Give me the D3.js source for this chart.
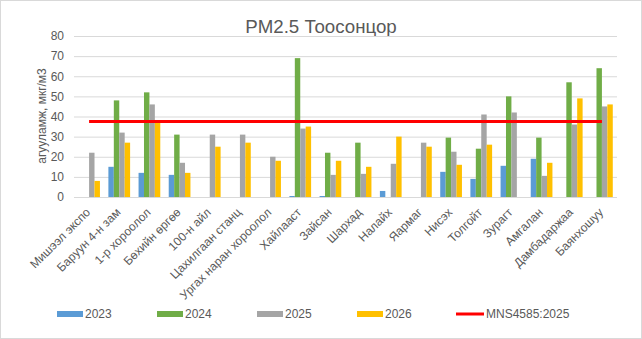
<!DOCTYPE html>
<html><head><meta charset="utf-8">
<script src="https://cdn.jsdelivr.net/npm/d3@7"></script>
<style>body{margin:0;background:#fff}svg{display:block;font-family:"Liberation Sans",Arial,sans-serif}</style>
</head><body><svg id="c" width="642" height="339"></svg>
<script>
const categories = ["Мишээл экспо","Баруун 4-н зам","1-р хороолол","Бөхийн өргөө","100-н айл","Цахилгаан станц","Ургах наран хороолол","Хайлааст","Зайсан","Шархад","Налайх","Яармаг","Нисэх","Толгойт","Зурагт","Амгалан","Дамбадаржаа","Баянхошуу"];
const seriesNames = ["2023","2024","2025","2026"];
const v2023 = [null,15,12,11,null,null,null,0.5,0.5,null,3,null,12.5,9,15.5,19,null,null];
const v2024 = [null,48,52,31,null,null,null,69,22,27,null,null,29.5,24,50,29.5,57,64];
const v2025 = [22,32,46,17,31,31,20,34,11,11.5,16.5,27,22.5,41,42,10.5,36,45];
const v2026 = [8,27,37,12,25,27,18,35,18,15,30,25,16,26,null,17,49,46];
const standardName = "MNS4585:2025";
const standardValue = 37.5;
const yTicks = [0,10,20,30,40,50,60,70,80];
const colors = ["#5B9BD5","#70AD47","#A5A5A5","#FFC000"];
const values = [v2023,v2024,v2025,v2026];

const svg = d3.select("#c");
svg.append("rect").attr("x",0.5).attr("y",0.5).attr("width",641).attr("height",338).attr("fill","#fff").attr("stroke","#D9D9D9");

const L=74, R=617, T=36, B=197;
const x = d3.scaleBand().domain(categories).range([L,R]).padding(0);
const inner = d3.scaleBand().domain(seriesNames).range([-x.bandwidth()*0.36, x.bandwidth()*0.36]).padding(0);
const y = d3.scaleLinear().domain([0,80]).range([B,T]);

svg.append("text").attr("x",321).attr("y",33).attr("text-anchor","middle").attr("font-size",18.7).attr("fill","#595959").text("PM2.5 Тоосонцор");

const yAxis = svg.append("g").attr("transform",`translate(${L},0)`).call(d3.axisLeft(y).tickValues(yTicks).tickSize(-(R-L)).tickPadding(10));
yAxis.select(".domain").remove();
yAxis.selectAll("line").attr("stroke","#D9D9D9");
yAxis.selectAll("text").attr("font-size",12).attr("fill","#595959").attr("font-family","Liberation Sans, Arial, sans-serif");

svg.append("text").attr("transform",`translate(46,116) rotate(-90)`).attr("text-anchor","middle").attr("font-size",12).attr("fill","#595959").text("агууламж, мкг/м3");

const g = svg.append("g");
values.forEach((arr,si)=>{
  g.selectAll(null).data(categories.map((c,i)=>({c,v:arr[i]})).filter(d=>d.v!=null))
   .enter().append("rect")
   .attr("x",d=>x(d.c)+x.bandwidth()/2+inner(seriesNames[si]))
   .attr("width",inner.bandwidth())
   .attr("y",d=>y(d.v)).attr("height",d=>B-y(d.v))
   .attr("fill",colors[si]);
});

const line = d3.line().x(d=>x(d)+x.bandwidth()/2).y(()=>y(standardValue));
svg.append("path").attr("d",line([categories[0],categories[categories.length-1]])).attr("stroke","#FF0000").attr("stroke-width",3).attr("fill","none");

const xAxis = svg.append("g").attr("transform",`translate(0,${B})`).call(d3.axisBottom(x).tickSize(0).tickPadding(0));
xAxis.select(".domain").remove();
xAxis.selectAll("text").attr("font-size",12).attr("fill","#595959").attr("font-family","Liberation Sans, Arial, sans-serif")
  .attr("text-anchor","end").attr("dy",null).attr("y",0)
  .attr("transform","translate(2,16) rotate(-45)");

const legend = svg.append("g");
const lx = [57,157,257,357];
seriesNames.forEach((s,i)=>{
  legend.append("rect").attr("x",lx[i]).attr("y",311).attr("width",26).attr("height",6).attr("fill",colors[i]);
  legend.append("text").attr("x",lx[i]+28).attr("y",318).attr("font-size",12).attr("fill","#595959").text(s);
});
legend.append("line").attr("x1",456).attr("x2",484).attr("y1",314).attr("y2",314).attr("stroke","#FF0000").attr("stroke-width",3);
legend.append("text").attr("x",486).attr("y",318).attr("font-size",12).attr("fill","#595959").text(standardName);
</script></body></html>
